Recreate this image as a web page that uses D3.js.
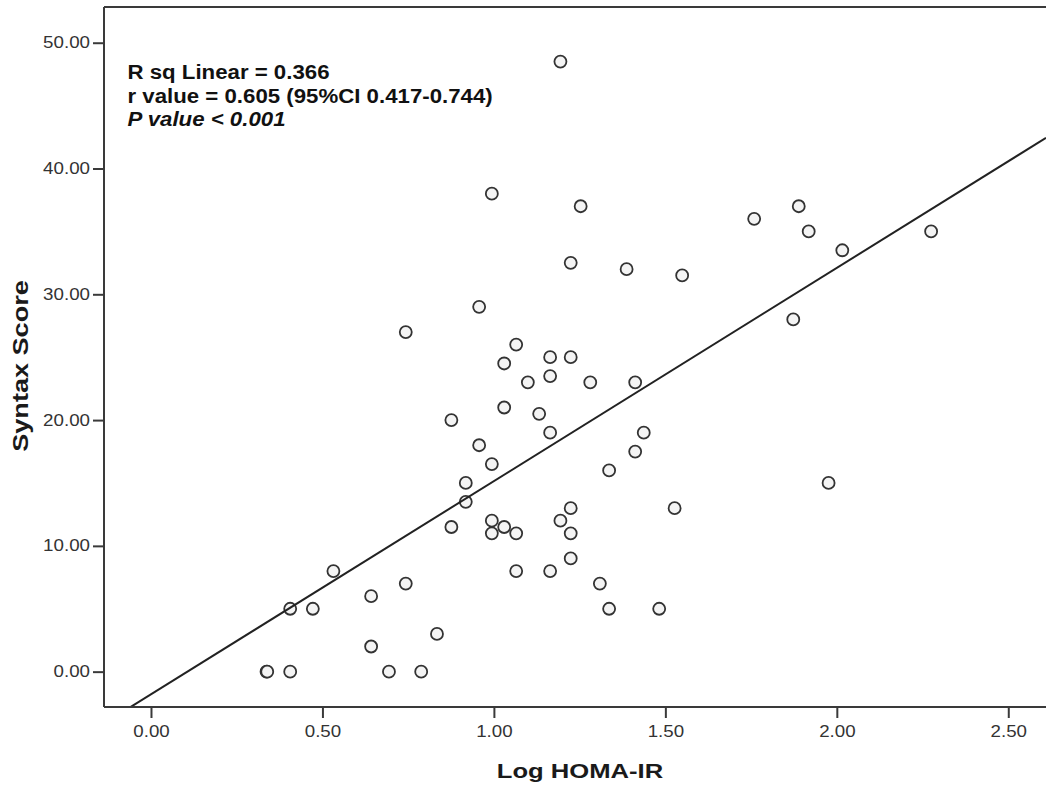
<!DOCTYPE html>
<html>
<head>
<meta charset="utf-8">
<script src="https://cdn.jsdelivr.net/npm/d3@7"></script>
<style>
  html, body { margin: 0; padding: 0; background: #ffffff; }
  svg { display: block; }
</style>
</head>
<body>
<svg id="chart" width="1046" height="787"></svg>
<script>
// ---- data ----
const logHomaIR = [
  1.194, 0.994, 1.253, 1.759, 1.889, 1.918, 2.275, 2.016, 1.224, 1.387,
  1.549, 0.957, 1.873, 0.743, 1.065, 1.030, 1.164, 1.224, 1.164, 1.099,
  1.281, 1.412, 1.030, 1.132, 0.876, 1.164, 1.437, 0.957, 1.412, 0.994,
  1.336, 0.918, 1.976, 0.918, 1.224, 1.527, 0.876, 0.994, 1.030, 1.194,
  0.994, 1.065, 1.224, 0.532, 1.065, 1.164, 0.743, 1.309, 1.224, 0.642,
  0.406, 0.472, 1.336, 1.482, 0.834, 0.642, 0.337, 0.339, 0.406, 0.694,
  0.788
];
const syntaxScore = [
  48.5, 38, 37, 36, 37, 35, 35, 33.5, 32.5, 32,
  31.5, 29, 28, 27, 26, 24.5, 25, 25, 23.5, 23,
  23, 23, 21, 20.5, 20, 19, 19, 18, 17.5, 16.5,
  16, 15, 15, 13.5, 13, 13, 11.5, 12, 11.5, 12,
  11, 11, 11, 8, 8, 8, 7, 7, 9, 6,
  5, 5, 5, 5, 3, 2, 0, 0, 0, 0,
  0
];
const xTicks = [0, 0.5, 1.0, 1.5, 2.0, 2.5];
const yTicks = [0, 10, 20, 30, 40, 50];
const fitCoef = [-1.8, 16.95];   // intercept, slope of the linear fit line
const annotationLines = [
  "R sq Linear = 0.366",
  "r value = 0.605 (95%CI 0.417-0.744)",
  "P value < 0.001"
];
const xTitle = "Log HOMA-IR";
const yTitle = "Syntax Score";

// ---- layout ----
const pL = 104, pT = 7, pR = 1046, pB = 707;
const svg = d3.select("#chart");
const FONT = "'Liberation Sans', Arial, Helvetica, sans-serif";

const x = d3.scaleLinear().domain([-0.137, 2.610]).range([pL, pR]);
const y = d3.scaleLinear().domain([-2.81, 52.84]).range([pB, pT]);

svg.append("rect").attr("width", 1046).attr("height", 787).attr("fill", "#fff");

svg.append("defs").append("clipPath").attr("id", "plotclip")
  .append("rect").attr("x", pL).attr("y", pT)
  .attr("width", pR - pL).attr("height", pB - pT);

// points
const pts = logHomaIR.map((v, i) => ({ x: v, y: syntaxScore[i] }));
svg.append("g").selectAll("circle").data(pts).join("circle")
  .attr("cx", d => x(d.x))
  .attr("cy", d => y(d.y))
  .attr("r", 6)
  .attr("fill", "#f4f4f4")
  .attr("stroke", "#333")
  .attr("stroke-width", 1.8);

// fit line
const [x0, x1] = x.domain();
const fitLine = [x0, x1].map(v => ({ x: v, y: fitCoef[0] + fitCoef[1] * v }));
svg.append("path")
  .attr("clip-path", "url(#plotclip)")
  .attr("d", d3.line().x(d => x(d.x)).y(d => y(d.y))(fitLine))
  .attr("fill", "none")
  .attr("stroke", "#222")
  .attr("stroke-width", 2);

// axes
const fmt = d3.format(".2f");
const yAxis = svg.append("g").attr("transform", `translate(${pL},0)`)
  .call(d3.axisLeft(y).tickValues(yTicks).tickFormat(fmt).tickSize(11).tickPadding(3));
const xAxis = svg.append("g").attr("transform", `translate(0,${pB})`)
  .call(d3.axisBottom(x).tickValues(xTicks).tickFormat(fmt).tickSize(11).tickPadding(8));

[yAxis, xAxis].forEach(g => {
  g.select(".domain").attr("stroke", "#3a3a3a").attr("stroke-width", 2);
  g.selectAll(".tick line").attr("stroke", "#3a3a3a").attr("stroke-width", 2);
  g.selectAll(".tick text")
    .attr("fill", "#333")
    .style("font-family", FONT)
    .style("font-size", "16px")
    .attr("data-stretch", 1.17);
});
yAxis.select(".domain").attr("d", `M0,${pT}V${pB}`);
xAxis.select(".domain").attr("d", `M${pL},0H${pR}`);
svg.append("line")
  .attr("x1", pL).attr("x2", pR).attr("y1", pT).attr("y2", pT)
  .attr("stroke", "#3a3a3a").attr("stroke-width", 2);

// axis titles
svg.append("text")
  .attr("x", 580).attr("y", 777.5)
  .attr("text-anchor", "middle")
  .style("font-family", FONT).style("font-size", "21px").style("font-weight", "bold")
  .attr("fill", "#1a1a1a")
  .attr("data-stretch", 1.22)
  .text(xTitle);

svg.append("text")
  .attr("transform", "translate(28,366) rotate(-90)")
  .attr("text-anchor", "middle")
  .style("font-family", FONT).style("font-size", "22px").style("font-weight", "bold")
  .attr("fill", "#1a1a1a")
  .attr("data-stretch", 1.23)
  .text(yTitle);

// annotation
const ann = svg.append("g");
annotationLines.forEach((t, i) => {
  ann.append("text")
    .attr("x", 127.5).attr("y", 79 + i * 23.6)
    .style("font-family", FONT).style("font-size", "19.5px").style("font-weight", "bold")
    .style("font-style", i === 2 ? "italic" : "normal")
    .attr("fill", "#111")
    .attr("data-stretch", 1.14)
    .text(t);
});

// horizontal stretch of text to match the reference's wide lettering
svg.selectAll("text[data-stretch]").each(function () {
  const s = +this.getAttribute("data-stretch");
  const w = this.getComputedTextLength();
  this.setAttribute("textLength", (w * s).toFixed(1));
  this.setAttribute("lengthAdjust", "spacingAndGlyphs");
});
</script>
</body>
</html>
